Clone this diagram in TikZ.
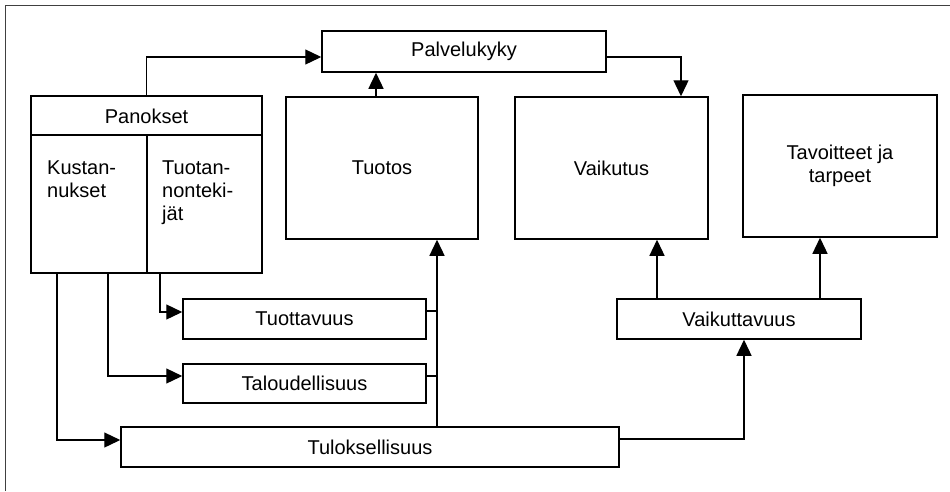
\documentclass[tikz,border=0pt]{standalone}
\usepackage{fontspec}
\setmainfont{Liberation Sans}
\usetikzlibrary{arrows.meta}

\tikzstyle{box}=[draw,rectangle,line width=1.5pt,inner sep=0pt,font=\fontsize{20}{23}\selectfont]
\tikzstyle{lbl}=[inner sep=0pt,align=left,font=\fontsize{20}{23}\selectfont]
\tikzstyle{arr}=[line width=1.3pt,-{Triangle[length=16pt,width=15pt]}]
\tikzstyle{con}=[line width=1.3pt]

\begin{document}
\begin{tikzpicture}[x=1pt,y=-1pt]
	\useasboundingbox (0,0) rectangle (950,491);
	\draw[darkgray,line width=1pt] (5,491)--(5,5)--(950,5);
	
	\node[box,minimum width=284pt,minimum height=41pt] (palv) at (464,51.5) {Palvelukyky};
	
	\node[box,minimum width=231pt,minimum height=177pt] (pan) at (146.5,184.5) {};
	\draw[line width=1.5pt] (pan.west |- 0,135)--(pan.east |- 0,135);
	\draw[line width=1.5pt] (147,135)--(pan.south -| 147,0);
	\node[lbl] (panok) at (146.5,116) {Panokset};
	\node[lbl,anchor=north west] (kust) at (47,161) {Kustan-\\nukset};
	\node[lbl,anchor=north west] (tuotan) at (162,161) {Tuotan-\\nonteki-\\jät};
	
	\node[box,minimum width=192pt,minimum height=142pt] (tuotos) at (382,168) {Tuotos};
	\node[box,minimum width=193pt,minimum height=142pt] (vaikutus) at (611.5,168) {Vaikutus};
	\node[box,minimum width=194pt,minimum height=142pt,align=center] (tavoit) at (840,166) {Tavoitteet ja\\tarpeet};
	
	\node[box,minimum width=243pt,minimum height=40pt] (tuott) at (304.5,319) {Tuottavuus};
	\node[box,minimum width=243pt,minimum height=39pt] (talo) at (304.5,383.5) {Taloudellisuus};
	\node[box,minimum width=498pt,minimum height=40pt] (tulos) at (370,447) {Tuloksellisuus};
	\node[box,minimum width=244pt,minimum height=40pt] (vaikutt) at (739,319) {Vaikuttavuus};
	
	% ylaosan nuolet
	\draw[arr] (pan.north) |- ([yshift=-5.5pt]palv.west);
	\coordinate (tq) at ([xshift=-6pt]tuotos.north);
	\draw[arr] (tq)--(tq |- palv.south);
	\draw[arr] ([yshift=-5.5pt]palv.east) -| ([xshift=69.5pt]vaikutus.north);
	
	% panoksista
	\draw[arr] ([xshift=13.5pt]pan.south) |- ([yshift=7pt]tuott.west);
	\draw[arr] ([xshift=-38.5pt]pan.south) |- ([yshift=7.5pt]talo.west);
	\draw[arr] ([xshift=-89.5pt]pan.south) |- ([yshift=7pt]tulos.west);
	
	% tuotokseen
	\coordinate (tb) at ([xshift=55pt]tuotos.south);
	\draw[arr] (tb |- tulos.north)--(tb);
	\draw[con] ([yshift=8pt]tuott.east)--([yshift=8pt]tuott.east -| tb);
	\draw[con] ([yshift=7.5pt]talo.east)--([yshift=7.5pt]talo.east -| tb);
	
	% vaikuttavuus
	\draw[arr] ([yshift=8pt]tulos.east) -| ([xshift=5pt]vaikutt.south);
	\coordinate (va) at ([xshift=-82pt]vaikutt.north);
	\draw[arr] (va)--(va |- vaikutus.south);
	\coordinate (vb) at ([xshift=81pt]vaikutt.north);
	\draw[arr] (vb)--(vb |- tavoit.south);
\end{tikzpicture}
\end{document}
